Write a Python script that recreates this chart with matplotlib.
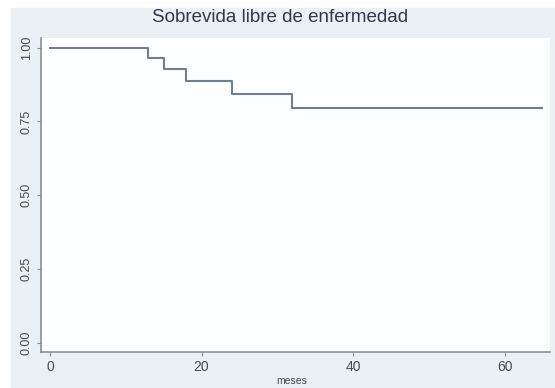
import matplotlib
matplotlib.use("Agg")
import matplotlib.pyplot as plt
from matplotlib.patches import Rectangle

plt.rcParams["font.family"] = ["Liberation Sans", "DejaVu Sans"]

# Kaplan-Meier step data
times = [0, 13, 15, 18, 24, 32, 65]
survival = [1.0, 0.966, 0.928, 0.887, 0.843, 0.795, 0.795]
xticks = [0, 20, 40, 60]
yticks = [0.00, 0.25, 0.50, 0.75, 1.00]
ytick_labels = ["0.00", "0.25", "0.50", "0.75", "1.00"]
title = "Sobrevida libre de enfermedad"
xlabel = "meses"

W, H = 555, 388
fig = plt.figure(figsize=(W / 100, H / 100), dpi=100, facecolor="white")
bg = "#eaf0f4"
fig.patches.append(Rectangle((11 / W, 0), 1 - 11 / W, 1 - 8 / H,
                             transform=fig.transFigure, color=bg, zorder=-10))

ax = fig.add_axes([41 / W, 36.3 / H, (550 - 41) / W, (350 - 36.3) / H])
ax.set_facecolor("#fdfeff")
ax.step(times, survival, where="post", color="#6f808c", lw=1.5)

ax.set_xlim(-1.19, 66.0)
ax.set_ylim(-0.0305, 1.033)
ax.set_xticks(xticks)
ax.set_yticks(yticks)
ax.set_yticklabels(ytick_labels, rotation=90, va="center")

for s in ["top", "right"]:
    ax.spines[s].set_visible(False)
for s in ["left", "bottom"]:
    ax.spines[s].set_color("#8a8f94")
    ax.spines[s].set_linewidth(1.2)
ax.tick_params(axis="both", colors="#8a8f94", length=3, width=0.8,
               labelcolor="#4a4a4a", labelsize=9, pad=3)
ax.tick_params(axis="x", labelsize=10)

fig.text(292 / W, 1 - 381 / H, xlabel, ha="center", va="center",
         fontsize=7.5, color="#4a4a4a")
fig.text(280 / W, 1 - 18 / H, title, ha="center", va="center",
         fontsize=13.5, color="#33384f")

fig.savefig("out.png", dpi=100, facecolor=fig.get_facecolor())
